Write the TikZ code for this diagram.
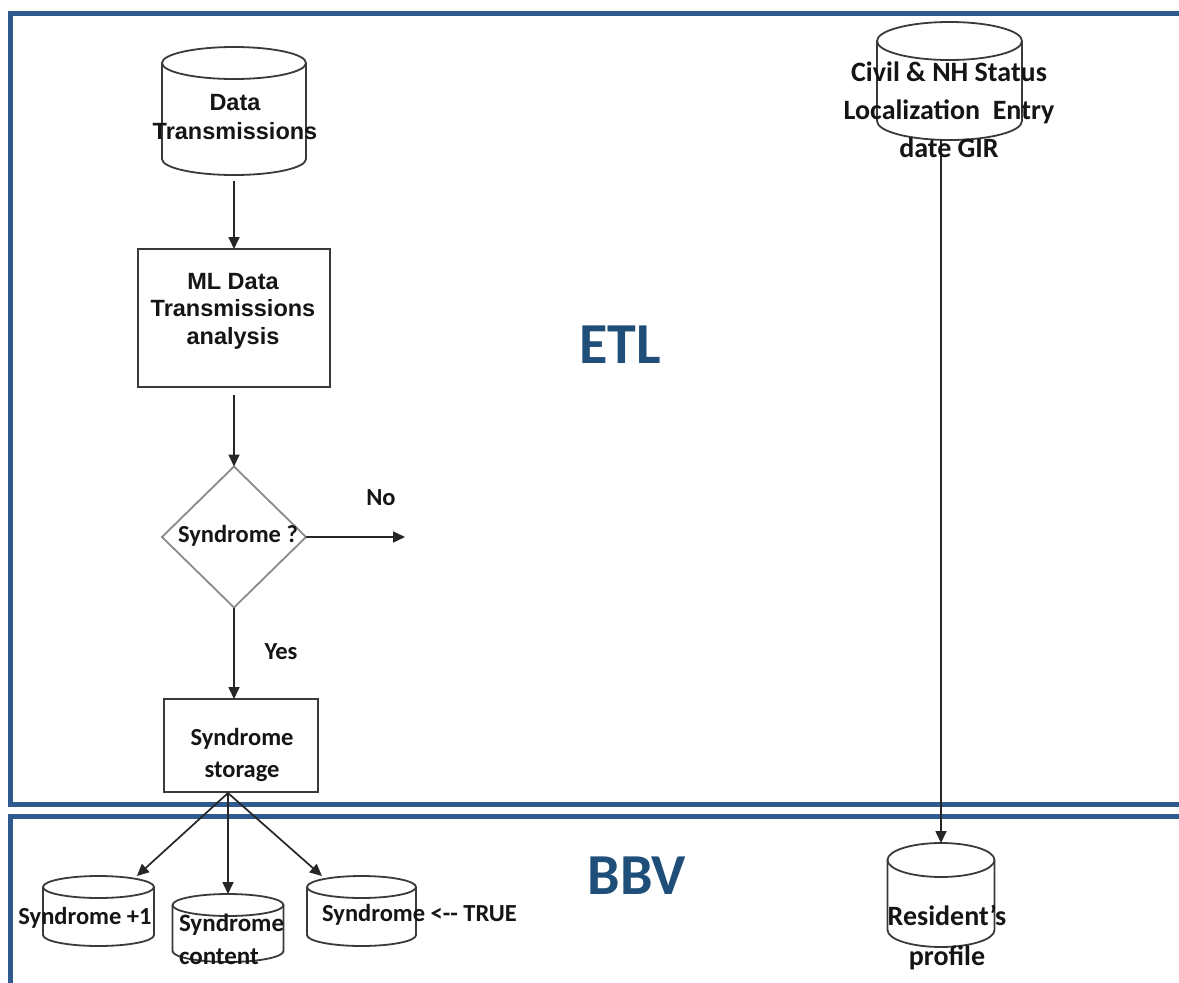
\documentclass[tikz,border=0pt]{standalone}
\usepackage{fontspec}
\setmainfont{Carlito}
\newfontfamily\arialf{Liberation Sans}
\usetikzlibrary{arrows.meta,shapes.geometric,calc}

\definecolor{framebl}{HTML}{2F5A8E}
\definecolor{titlebl}{HTML}{1F4E79}
\definecolor{boxln}{HTML}{3A3A3A}
\definecolor{diamln}{HTML}{8A8A8A}
\definecolor{txtc}{HTML}{151515}

\tikzset{
  every node/.style={inner sep=0pt, outer sep=0pt, text=txtc},
  panel/.style={draw=framebl, line width=5pt},
  procbox/.style={draw=boxln, line width=1.8pt, rectangle},
  decision/.style={draw=diamln, line width=1.8pt, diamond},
  cylholder/.style={rectangle},
  cylline/.style={draw=boxln, line width=1.8pt},
  flow/.style={draw=black!85, line width=1.7pt, -{Triangle[length=12pt,width=11pt]}},
  armial/.style={font=\arialf\bfseries\fontsize{23.5}{28.5}\selectfont, align=center},
  calb/.style={font=\bfseries\fontsize{24.5}{32}\selectfont, align=center},
  calbig/.style={font=\bfseries\fontsize{28}{38}\selectfont, align=center},
  title/.style={font=\bfseries\fontsize{58}{60}\selectfont, text=titlebl},
}

% cylinder outline drawn around a placeholder node: #1 node, #2 x radius, #3 y radius
\newcommand\drawcyl[3]{%
  \draw[cylline] ([yshift=-#3pt]#1.north) ellipse[x radius=#2pt, y radius=#3pt];
  \draw[cylline] ([yshift=-#3pt]#1.north west) -- ([yshift=#3pt]#1.south west)
    arc[start angle=180, end angle=360, x radius=#2pt, y radius=#3pt]
    -- ([yshift=-#3pt]#1.north east);
}

\begin{document}
\begin{tikzpicture}[x=1pt, y=-1pt]
\useasboundingbox (0,0) rectangle (1179,983);
\clip (0,0) rectangle (1179,983);
\fill[white] (0,0) rectangle (1179,983);

% the two panels
\draw[panel] (10,13) rectangle (1220,804);
\draw[panel] (10,816) rectangle (1220,1010);

\node[title] (etl) at (620,345) {ETL};
\node[title] (bbv) at (637,876) {BBV};

% ETL flow
\node[cylholder, minimum width=144pt, minimum height=128pt] (dt) at (234,111) {};
\drawcyl{dt}{72}{16}
\node[armial] (dtt) at (235,117) {Data\\Transmissions};

\node[procbox, minimum width=192pt, minimum height=138pt] (ml) at (234,318) {};
\node[armial, font=\arialf\bfseries\fontsize{23.5}{27.5}\selectfont] (mlt) at (233,311) {ML Data\\Transmissions\\analysis};

\node[decision, minimum width=144pt, minimum height=141pt] (dec) at (234,537) {};
\node[calb] (dect) at (238,536) {Syndrome ?};

\node[procbox, minimum width=154pt, minimum height=93pt] (st) at (241,745.5) {};
\node[calb] (stt) at (242,755) {Syndrome\\storage};

\coordinate (noend) at (405,537);
\node[calb] (no) at (381,498) {No};
\node[calb] (yes) at (281,652) {Yes};

\draw[flow, shorten <=6pt] (dt.south) -- (dt.south |- ml.north);
\draw[flow, shorten <=8pt] (ml.south) -- (dec.north);
\draw[flow] (dec.east) -- (noend);
\draw[flow] (dec.south) -- (dec.south |- st.north);

% resident data
\node[cylholder, minimum width=145pt, minimum height=118pt] (civ) at (949.5,81) {};
\drawcyl{civ}{72.5}{19}

\node[cylholder, minimum width=107pt, minimum height=104pt] (res) at (941,895) {};
\drawcyl{res}{53.5}{17}

\draw[flow] (res.north |- civ.south) -- (res.north);
\node[calbig] (civt) at (949,110) {Civil \& NH Status\\Localization\ \ Entry\\date GIR};
\node[calbig, font=\bfseries\fontsize{28}{40}\selectfont] (rest) at (947,938) {Resident’s\\profile};

% BBV stores
\coordinate (fan) at (228,793);
\node[cylholder, minimum width=111pt, minimum height=70pt] (s1) at (98.5,911) {};
\drawcyl{s1}{55.5}{11}
\node[cylholder, minimum width=111pt, minimum height=68pt] (s2) at (228,928) {};
\drawcyl{s2}{55.5}{11}
\node[cylholder, minimum width=109pt, minimum height=70pt] (s3) at (361.5,911) {};
\drawcyl{s3}{54.5}{11}

\draw[flow] (fan) -- (s1);
\draw[flow] (fan) -- (s2.north);
\draw[flow] (fan) -- (s3);

\node[calb] (s1t) at (85,918) {Syndrome +1};
\node[calb, align=left, anchor=west, font=\bfseries\fontsize{25}{33}\selectfont] (s2t) at (179,939) {Syndrome\\content};
\node[calb] (s3t) at (419.5,915) {Syndrome <{-}{-} TRUE};
\end{tikzpicture}
\end{document}
